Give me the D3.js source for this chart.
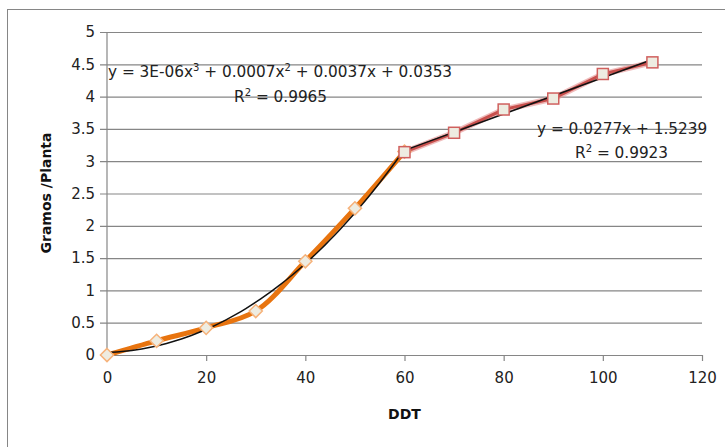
<!DOCTYPE html>
<html>
<head>
<meta charset="utf-8">
<script src="https://cdn.jsdelivr.net/npm/d3@7"></script>
<style>
  body { margin: 0; background: #fff; }
  svg { display: block; }
</style>
</head>
<body>
<div id="chart"></div>
<script>
// Data
const ddt1 = [0, 10, 20, 30, 40, 50, 60];
const grams1 = [0, 0.22, 0.42, 0.68, 1.45, 2.27, 3.15];
const ddt2 = [60, 70, 80, 90, 100, 110];
const grams2 = [3.14, 3.44, 3.80, 3.97, 4.35, 4.53];
const xTicks = [0, 20, 40, 60, 80, 100, 120];
const yTicks = [0, 0.5, 1, 1.5, 2, 2.5, 3, 3.5, 4, 4.5, 5];
const polyLabel = ["y = 3E-06x", "3", " + 0.0007x", "2", " + 0.0037x + 0.0353"];
const polyR2 = "0.9965";
const linLabel = "y = 0.0277x + 1.5239";
const linR2 = "0.9923";

const W = 725, H = 447;
const margin = { top: 32, right: 23, bottom: 92, left: 107 };
const width = W - margin.left - margin.right;
const height = H - margin.top - margin.bottom;
const font = "'DejaVu Sans', Verdana, sans-serif";

const svgRoot = d3.select("#chart").append("svg")
    .attr("width", W)
    .attr("height", H);

// outer chart border (right/bottom run off the picture)
svgRoot.append("rect")
    .attr("x", 7.5).attr("y", 9.5)
    .attr("width", 900).attr("height", 600)
    .attr("fill", "none")
    .attr("stroke", "#868686");

const svg = svgRoot.append("g")
    .attr("transform", `translate(${margin.left},${margin.top})`);

const x = d3.scaleLinear().domain([0, 120]).range([0, width]);
const y = d3.scaleLinear().domain([0, 5]).range([height, 0]);

// gridlines with ticks to the left
svg.append("g")
    .attr("class", "y-axis")
    .call(d3.axisLeft(y).tickValues(yTicks).tickSize(-width).tickPadding(12)
        .tickFormat(d => String(d)))
    .call(g => g.select(".domain").remove())
    .call(g => g.selectAll(".tick line")
        .attr("x1", -7).attr("stroke", "#868686").attr("stroke-width", 1.2))
    .call(g => g.selectAll("text")
        .style("font-family", font).style("font-size", "15px").attr("fill", "#222"));

// vertical axis line
svg.append("line")
    .attr("x1", 0).attr("x2", 0)
    .attr("y1", 0).attr("y2", height)
    .attr("stroke", "#868686").attr("stroke-width", 1.2);

svg.append("g")
    .attr("class", "x-axis")
    .attr("transform", `translate(0,${height})`)
    .call(d3.axisBottom(x).tickValues(xTicks).tickSize(6).tickPadding(11).tickSizeOuter(0))
    .call(g => g.select(".domain").attr("stroke", "#868686").attr("stroke-width", 1.2))
    .call(g => g.selectAll(".tick line").attr("stroke", "#868686").attr("stroke-width", 1.2))
    .call(g => g.selectAll("text")
        .style("font-family", font).style("font-size", "15px").attr("fill", "#222"));

// axis titles
svg.append("text")
    .attr("x", x(60)).attr("y", height + 64)
    .attr("text-anchor", "middle")
    .style("font-family", font).style("font-size", "14px").style("font-weight", "bold")
    .attr("fill", "#111")
    .text("DDT");

svg.append("text")
    .attr("transform", "rotate(-90)")
    .attr("x", -(193 - margin.top)).attr("y", 46 - margin.left + 5)
    .attr("text-anchor", "middle")
    .style("font-family", font).style("font-size", "14px").style("font-weight", "bold")
    .attr("fill", "#111")
    .text("Gramos /Planta");

// least-squares polynomial fit (trendline, as the spreadsheet computes it)
function polyfit(xs, ys, order) {
    const n = order + 1;
    const A = Array.from({ length: n }, () => new Array(n + 1).fill(0));
    for (let r = 0; r < n; r++) {
        for (let c = 0; c < n; c++) A[r][c] = d3.sum(xs, v => Math.pow(v, r + c));
        A[r][n] = d3.sum(xs, (v, i) => ys[i] * Math.pow(v, r));
    }
    for (let i = 0; i < n; i++) {
        let p = i;
        for (let k = i + 1; k < n; k++) if (Math.abs(A[k][i]) > Math.abs(A[p][i])) p = k;
        [A[i], A[p]] = [A[p], A[i]];
        for (let k = i + 1; k < n; k++) {
            const f = A[k][i] / A[i][i];
            for (let c = i; c <= n; c++) A[k][c] -= f * A[i][c];
        }
    }
    const coef = new Array(n).fill(0);
    for (let i = n - 1; i >= 0; i--) {
        let s = A[i][n];
        for (let c = i + 1; c < n; c++) s -= A[i][c] * coef[c];
        coef[i] = s / A[i][i];
    }
    return v => coef.reduce((acc, cf, i) => acc + cf * Math.pow(v, i), 0);
}

const line = d3.line().x(d => x(d[0])).y(d => y(d[1]));
const curve = d3.line().x(d => x(d[0])).y(d => y(d[1])).curve(d3.curveCatmullRom.alpha(0.5));

const s1 = ddt1.map((d, i) => [d, grams1[i]]);
const s2 = ddt2.map((d, i) => [d, grams2[i]]);

// series 2 (red, squares) - soft glow plus core line
svg.append("path")
    .datum(s2)
    .attr("d", line)
    .attr("fill", "none")
    .attr("stroke", "#e58f8f")
    .attr("stroke-width", 6)
    .attr("stroke-opacity", 0.6);
svg.append("path")
    .datum(s2)
    .attr("d", line)
    .attr("fill", "none")
    .attr("stroke", "#c8504d")
    .attr("stroke-width", 3);

// series 1 (orange, diamonds)
svg.append("path")
    .datum(s1)
    .attr("d", curve)
    .attr("fill", "none")
    .attr("stroke", "#e8740f")
    .attr("stroke-width", 5)
    .attr("stroke-linejoin", "round");

// trendlines
const f1 = polyfit(ddt1, grams1, 3);
const f2 = polyfit(ddt2, grams2, 1);
const t1 = d3.range(0, 60.01, 1).map(v => [v, f1(v)]);
const t2 = [60, 110].map(v => [v, f2(v)]);

[t1, t2].forEach(t => {
    svg.append("path")
        .datum(t)
        .attr("d", line)
        .attr("fill", "none")
        .attr("stroke", "#111")
        .attr("stroke-width", 1.5);
});

// markers
const diamond = d3.symbol().type(d3.symbolDiamond2).size(110);
svg.append("g").selectAll("path")
    .data(s1)
    .join("path")
    .attr("transform", d => `translate(${x(d[0])},${y(d[1])})`)
    .attr("d", diamond)
    .attr("fill", "#eeece1")
    .attr("stroke", "#f6b27a")
    .attr("stroke-width", 1.5);

svg.append("g").selectAll("rect")
    .data(s2)
    .join("rect")
    .attr("x", d => x(d[0]) - 5.5)
    .attr("y", d => y(d[1]) - 5.5)
    .attr("width", 11).attr("height", 11)
    .attr("fill", "#eeece1")
    .attr("stroke", "#d0605e")
    .attr("stroke-width", 1.5);

// trendline labels
function eqText(xPos, yPos, parts, size) {
    const t = svgRoot.append("text")
        .attr("x", xPos).attr("y", yPos)
        .style("font-family", font).style("font-size", size + "px")
        .attr("fill", "#222");
    parts.forEach((p, i) => {
        const sup = i % 2 === 1;
        t.append("tspan")
            .attr("dy", sup ? -6 : (i > 0 ? 6 : 0))
            .style("font-size", sup ? "10px" : size + "px")
            .text(p);
    });
    return t;
}

eqText(108, 77, polyLabel, 15.3);
eqText(234, 102, ["R", "2", " = " + polyR2], 15.3);
eqText(537, 134, [linLabel], 15.3);
eqText(575, 158, ["R", "2", " = " + linR2], 15.3);
</script>
</body>
</html>
